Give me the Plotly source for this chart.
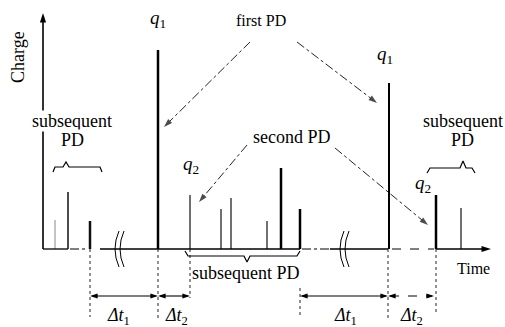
import plotly.graph_objects as go

# ---------------- data (time position, charge magnitude) ----------------
pulse_t = [55, 68, 90, 158, 190, 221, 231, 267, 281, 300, 389, 436, 461]
pulse_q = [29, 57, 28, 199, 54, 40, 51, 28, 81, 40, 166, 54, 41]
pulse_w = [1, 1.5, 2.5, 2.5, 1.2, 1.2, 1.2, 1.2, 2.5, 2.5, 2, 2.5, 1.2]
pulse_c = ["#888", "#111", "#111", "#000", "#111", "#111", "#111", "#111", "#000", "#000", "#000", "#000", "#111"]

# time axis pieces
axis_solid = [(43, 68), (100, 300), (330, 388), (436, 486)]
axis_dashdot = [(70, 88), (302, 330)]
axis_dash = [(392, 434)]
break_t = [116, 341]

# interval markers (Δt): start, end, label
dt_start = [90, 158, 300, 388]
dt_end = [158, 190, 388, 434]
dt_label = ["<i>Δt</i><sub>1</sub>", "<i>Δt</i><sub>2</sub>", "<i>Δt</i><sub>1</sub>", "<i>Δt</i><sub>2</sub>"]
dt_label_t = [118, 176, 345, 411]
dt_dash = ["solid", "solid", "solid", "dash"]

# vertical guide lines below the axis (t, top pixel, bottom pixel)
guide_t = [90, 158, 190, 300, 388, 436]
guide_top = [249, 249, 249, 288, 249, 249]
guide_bot = [317, 320, 298, 317, 320, 315]

H = 249  # pixel row of the time axis; charge = H - pixel
FAM = "Liberation Serif"


def cy(p):
    return H - p


fig = go.Figure()


def line(xs, ys, width=1.2, dash="solid", color="#000"):
    fig.add_trace(go.Scatter(x=xs, y=ys, mode="lines",
                             line=dict(color=color, width=width, dash=dash), hoverinfo="skip"))


def head(x, y, angle, size=9):
    fig.add_trace(go.Scatter(x=[x], y=[y], mode="markers",
                             marker=dict(symbol="arrow", size=size, angle=angle, color="#000",
                                         line=dict(width=0)), hoverinfo="skip"))


# pulses
for t, q, w, c in zip(pulse_t, pulse_q, pulse_w, pulse_c):
    line([t, t], [0, q], w, color=c)

# charge axis line + arrow
line([43, 43], [0, cy(20)], 1.6)
head(43, cy(13), 0, 10)


def seg(pairs, dash, width=1.3):
    xs, ys = [], []
    for a, b in pairs:
        xs += [a, b, None]
        ys += [0, 0, None]
    line(xs, ys, width, dash)


seg(axis_solid, "solid")
seg(axis_dashdot, "dashdot", 1)
seg(axis_dash, "dash", 1)
head(491, 0, 90, 10)

# guide lines
for t, a, b in zip(guide_t, guide_top, guide_bot):
    line([t, t], [cy(a), cy(b)], 1, "dot", "#222")

# braces (pixel coordinates converted)
braces = [
    [(53, 172), (55, 167), (63, 167), (66, 162), (69, 167), (100, 167), (102, 172)],
    [(185, 251), (188, 256), (244, 256), (247, 262), (250, 256), (297, 256), (300, 251)],
    [(427, 173), (430, 168), (460, 168), (463, 161), (466, 168), (472, 168), (475, 173)],
]
for b in braces:
    line([p[0] for p in b], [cy(p[1]) for p in b], 1.2)

# pointer lines (dash-dot with arrow heads)
pointers = [((250, 42), (164, 127)), ((297, 42), (377, 103)),
            ((247, 145), (199, 202)), ((335, 148), (428, 225))]
for (sx, sy), (ex, ey) in pointers:
    fig.add_trace(go.Scatter(x=[sx, ex], y=[cy(sy), cy(ey)], mode="lines+markers",
                             line=dict(color="#222", width=1, dash="dashdot"),
                             marker=dict(symbol="arrow", size=[0, 9], angleref="previous",
                                         color="#000", line=dict(width=0)),
                             hoverinfo="skip"))

anns = []
# Δt arrows
for a, b, lab, lt, dsh in zip(dt_start, dt_end, dt_label, dt_label_t, dt_dash):
    line([a + 2, b - 2], [cy(296), cy(296)], 1.1, dsh)
    head(a, cy(296), -90, 8)
    head(b, cy(296), 90, 8)
    anns.append(dict(x=lt, y=cy(316), text=lab, showarrow=False,
                     font=dict(size=18, family=FAM, color="#000")))

# break marks
shapes = []
for t in break_t:
    for off in (0, 5):
        x0 = t + off
        shapes.append(dict(type="path", xref="x", yref="y",
                           path=f"M {x0+3},{cy(231)} Q {x0-5},{cy(249)} {x0+3},{cy(267)}",
                           line=dict(color="#000", width=1)))

texts = [
    ("Charge", 18, 57, 18, -90, None),
    ("Time", 473, 268, 16, 0, None),
    ("first PD", 261, 20, 16, 0, None),
    ("second PD", 292, 137, 18, 0, "white"),
    ("subsequent", 72, 121, 18, 0, "white"),
    ("PD", 72, 140, 18, 0, "white"),
    ("subsequent", 463, 121, 18, 0, None),
    ("PD", 462, 140, 18, 0, None),
    ("subsequent PD", 246, 273, 18, 0, None),
    ("<i>q</i><sub>1</sub>", 158, 19, 19, 0, None),
    ("<i>q</i><sub>1</sub>", 385, 55, 19, 0, None),
    ("<i>q</i><sub>2</sub>", 191, 165, 19, 0, None),
    ("<i>q</i><sub>2</sub>", 423, 184, 19, 0, None),
]
for s, x, y, sz, ang, bg in texts:
    d = dict(x=x, y=cy(y), text=s, showarrow=False,
             font=dict(size=sz, family=FAM, color="#000"), textangle=ang, borderpad=0)
    if bg:
        d["bgcolor"] = bg
    anns.append(d)

fig.update_layout(
    width=505, height=327, margin=dict(l=0, r=0, t=0, b=0),
    paper_bgcolor="white", plot_bgcolor="white", showlegend=False,
    font=dict(family=FAM, color="#000", size=18),
    xaxis=dict(range=[0, 505], visible=False, fixedrange=True),
    yaxis=dict(range=[cy(327), cy(0)], visible=False, fixedrange=True),
    annotations=anns, shapes=shapes,
)

fig.write_html("out.html", config={"displayModeBar": False})
